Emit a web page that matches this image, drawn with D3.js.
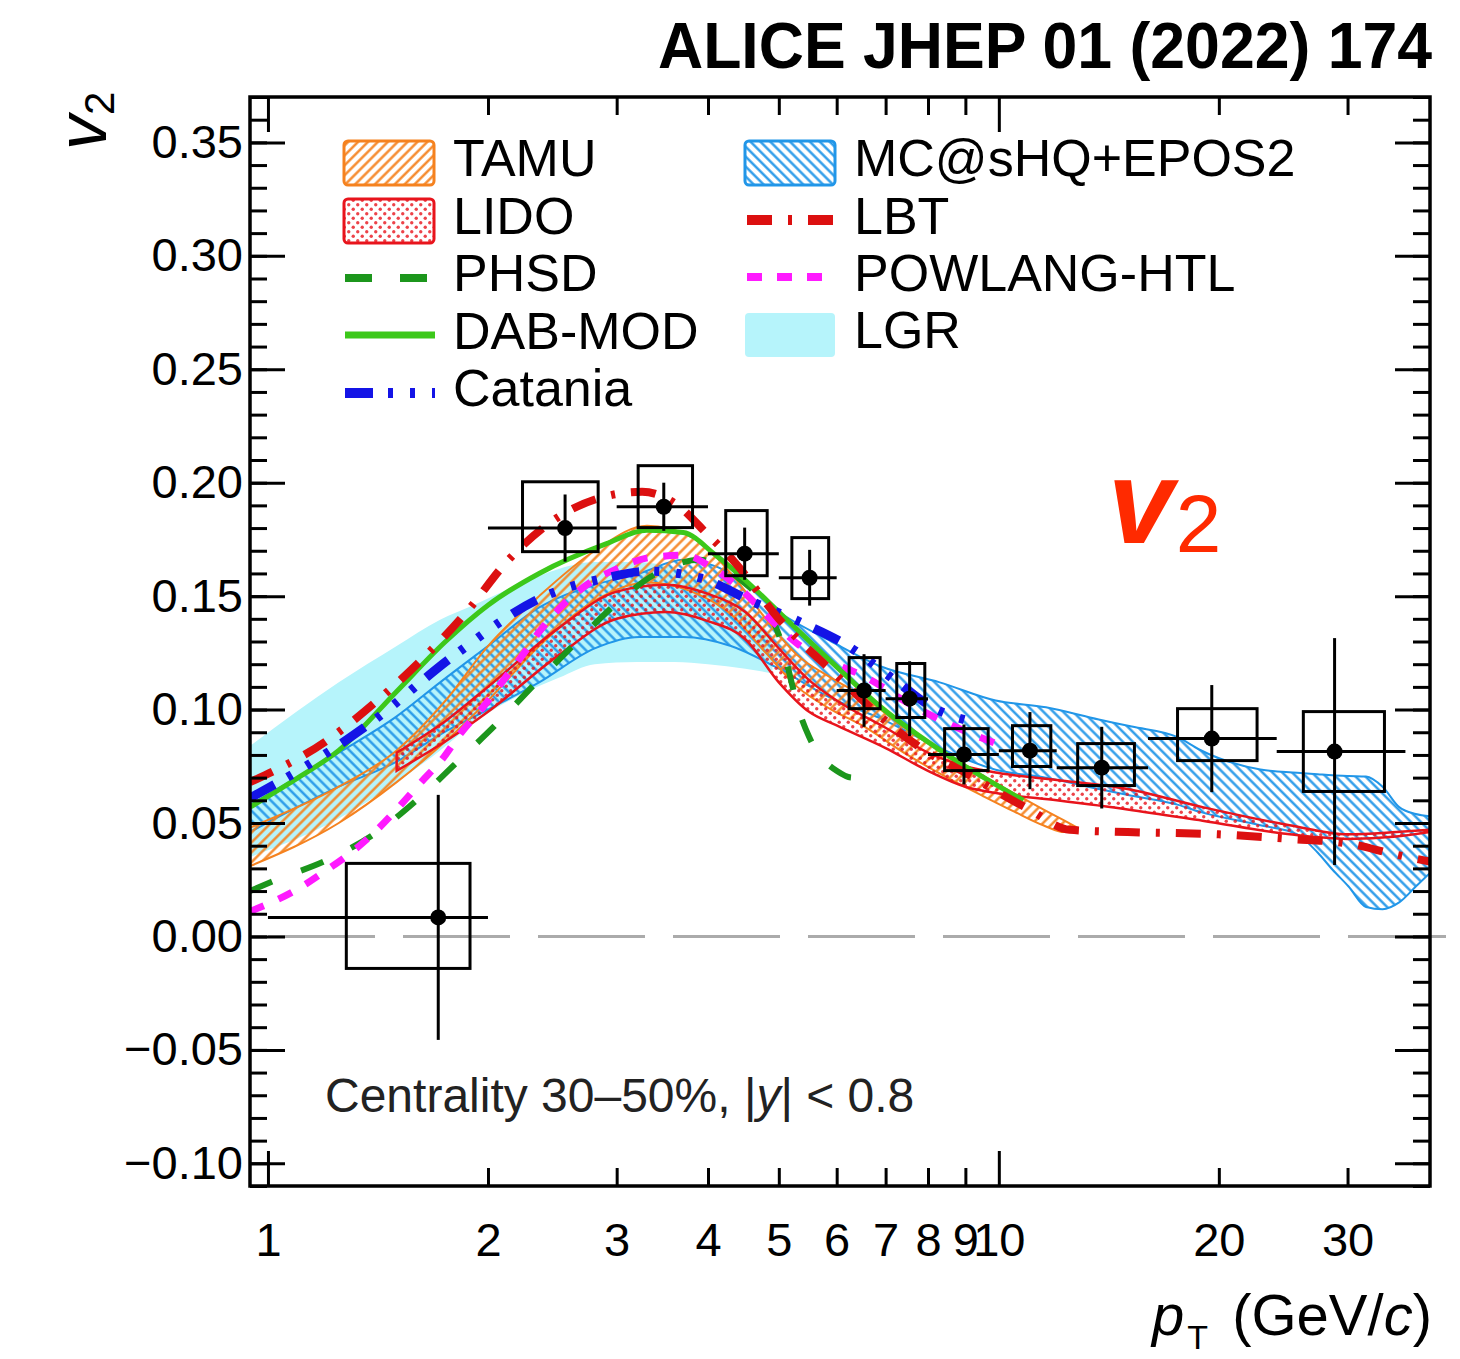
<!DOCTYPE html>
<html>
<head>
<meta charset="utf-8">
<script src="https://cdn.jsdelivr.net/npm/d3@7"></script>
<style>
  html, body { margin: 0; padding: 0; background: #fff; }
  svg { display: block; font-family: "Liberation Sans", Arial, Helvetica, sans-serif; }
</style>
</head>
<body>
<div id="chart"></div>
<script>
const pt         = [1.71, 2.55, 3.48, 4.49, 5.51, 6.54, 7.55, 8.96, 11.03, 13.83, 19.56, 28.8];
const v2         = [0.0084, 0.180, 0.1894, 0.1687, 0.1581, 0.1084, 0.1048, 0.0802, 0.0819, 0.0744, 0.0872, 0.0815];
const binLow     = [1, 2, 3, 4, 5, 6, 7, 8, 10, 12, 16, 24];
const binHigh    = [2, 3, 4, 5, 6, 7, 8, 10, 12, 16, 24, 36];
const statErr    = [0.054, 0.0148, 0.0106, 0.0115, 0.0123, 0.016, 0.0165, 0.0132, 0.017, 0.018, 0.0236, 0.050];
const systUp     = [0.0238, 0.0204, 0.0181, 0.019, 0.0177, 0.0145, 0.0155, 0.0114, 0.011, 0.0106, 0.0132, 0.0176];
const systDown   = [0.0225, 0.0104, 0.0092, 0.0097, 0.0092, 0.008, 0.0083, 0.0071, 0.007, 0.0079, 0.0097, 0.0176];
const systPtLow  = [1.28, 2.23, 3.21, 4.23, 5.21, 6.24, 7.25, 8.43, 10.44, 12.82, 17.56, 26.1];
const systPtHigh = [1.89, 2.83, 3.81, 4.82, 5.85, 6.88, 7.92, 9.67, 11.78, 15.33, 22.56, 33.7];

// ── Model bands ─────────────────────────────────────────────────────────────
const lgrPt   = [0.945, 1.25, 1.5, 1.72, 1.91, 2.2, 2.5, 2.8, 3.2, 3.6, 4.0, 4.5, 4.9];
const lgrHigh = [0.084, 0.112, 0.128, 0.1396, 0.146, 0.155, 0.162, 0.165, 0.165, 0.162, 0.155, 0.143, 0.132];
const lgrLow  = [0.035, 0.052, 0.068, 0.082, 0.094, 0.106, 0.114, 0.120, 0.121, 0.121, 0.120, 0.118, 0.116];

const mcPt   = [0.945, 1.25, 1.5, 1.72, 2.0, 2.35, 2.8, 3.22, 3.7, 4.3, 5.0, 5.9, 6.9, 8.3, 9.9, 11.6, 13.7, 15.2, 17.6, 18.8, 22.8, 25.6, 27.3, 28.6, 30.1, 31.8, 33.5, 35.3, 37.2, 38.9];
const mcHigh = [0.058, 0.081, 0.097, 0.112, 0.128, 0.145, 0.155, 0.160, 0.166, 0.160, 0.143, 0.130, 0.119, 0.112, 0.104, 0.101, 0.0956, 0.0925, 0.0877, 0.0824, 0.0736, 0.0722, 0.0715, 0.071, 0.0707, 0.0705, 0.066, 0.057, 0.054, 0.053];
const mcLow  = [0.046, 0.066, 0.077, 0.089, 0.100, 0.112, 0.127, 0.132, 0.132, 0.128, 0.118, 0.105, 0.096, 0.083, 0.0735, 0.070, 0.065, 0.062, 0.058, 0.055, 0.049, 0.045, 0.037, 0.0295, 0.022, 0.013, 0.012, 0.015, 0.022, 0.028];

const tamuPt   = [0.945, 1.25, 1.5, 1.75, 2.0, 2.35, 2.8, 3.3, 3.8, 4.3, 4.8, 5.3, 5.9, 6.5, 7.5, 8.5, 9.5, 10.5, 11.5, 12.3, 12.8];
const tamuHigh = [0.048, 0.066, 0.082, 0.104, 0.128, 0.150, 0.170, 0.181, 0.176, 0.160, 0.140, 0.124, 0.114, 0.106, 0.091, 0.080, 0.071, 0.063, 0.056, 0.051, 0.048];
const tamuLow  = [0.031, 0.050, 0.068, 0.086, 0.104, 0.128, 0.148, 0.156, 0.152, 0.142, 0.125, 0.110, 0.100, 0.093, 0.080, 0.070, 0.062, 0.055, 0.049, 0.046, 0.046];

const lidoPt   = [1.5, 1.75, 2, 2.5, 3, 3.5, 4, 4.5, 5, 5.5, 6, 7, 8, 9, 10, 12, 15, 19, 25, 30, 35, 38.9];
const lidoHigh = [0.081, 0.095, 0.110, 0.136, 0.152, 0.155, 0.151, 0.143, 0.127, 0.113, 0.104, 0.092, 0.081, 0.075, 0.072, 0.069, 0.065, 0.057, 0.049, 0.045, 0.046, 0.047];
const lidoLow  = [0.073, 0.086, 0.099, 0.124, 0.140, 0.143, 0.139, 0.131, 0.112, 0.099, 0.093, 0.083, 0.073, 0.066, 0.063, 0.060, 0.056, 0.051, 0.045, 0.043, 0.044, 0.046];

// ── Model curves ────────────────────────────────────────────────────────────
const phsdPt = [0.945, 1.01, 1.22, 1.41, 1.61, 1.83, 2.06, 2.33, 2.63, 2.98, 3.4, 3.9, 4.4, 4.8, 5.0, 5.15, 5.3, 5.5, 5.75, 6.0, 6.3, 6.7];
const phsdV2 = [0.020, 0.024, 0.0345, 0.046, 0.061, 0.078, 0.094, 0.112, 0.129, 0.146, 0.160, 0.166, 0.158, 0.145, 0.133, 0.118, 0.102, 0.088, 0.078, 0.073, 0.070, 0.070];

const dabPt = [0.945, 1.1, 1.25, 1.5, 1.75, 2, 2.35, 2.9, 3.3, 3.7, 4.1, 4.5, 5, 5.9, 6.9, 8.5, 10.8];
const dabV2 = [0.057, 0.070, 0.082, 0.108, 0.130, 0.146, 0.160, 0.173, 0.179, 0.178, 0.168, 0.157, 0.143, 0.121, 0.101, 0.080, 0.060];

const cataniaPt = [0.945, 1.1, 1.38, 1.8, 2.39, 2.9, 3.31, 3.9, 4.64, 5.4, 6.22, 7.2, 8.22, 9.1];
const cataniaV2 = [0.061, 0.073, 0.094, 0.124, 0.150, 0.158, 0.161, 0.158, 0.147, 0.138, 0.128, 0.113, 0.100, 0.095];

const lbtPt = [0.945, 1.2, 1.4, 1.6, 1.87, 2.12, 2.5, 2.9, 3.25, 3.6, 4.0, 4.35, 5, 6, 7, 8, 8.9, 10.3, 11, 12.5, 15, 20, 25, 30, 35, 38.9];
const lbtV2 = [0.068, 0.086, 0.103, 0.120, 0.143, 0.165, 0.185, 0.194, 0.196, 0.191, 0.177, 0.165, 0.140, 0.115, 0.095, 0.081, 0.073, 0.061, 0.056, 0.047, 0.046, 0.045, 0.043, 0.041, 0.036, 0.033];

const powlangPt = [0.945, 1.1, 1.2, 1.3, 1.4, 1.5, 1.62, 1.73, 1.84, 1.98, 2.1, 2.23, 2.36, 2.53, 2.76, 3.0, 3.33, 3.72, 4.03, 4.33, 4.94, 5.3, 5.9, 6.6, 7.5, 8.5, 10.1];
const powlangV2 = [0.011, 0.021, 0.029, 0.037, 0.046, 0.056, 0.068, 0.078, 0.090, 0.102, 0.113, 0.124, 0.135, 0.146, 0.156, 0.162, 0.167, 0.168, 0.163, 0.156, 0.138, 0.129, 0.121, 0.114, 0.103, 0.094, 0.084];

// ── Axis ticks ──────────────────────────────────────────────────────────────
const xTickLabels = [1, 2, 3, 4, 5, 6, 7, 8, 9, 10, 20, 30];
const xMajorTicks = [1, 10];
const xMinorTicks = [2, 3, 4, 5, 6, 7, 8, 9, 20, 30];
const yMajorTicks = d3.range(-10, 40, 5).map(v => v / 100);
const yMinorTicks = d3.range(-11, 38).map(v => v / 100);

// ── Layout ──────────────────────────────────────────────────────────────────
const W = 1460, H = 1359;
const frame = { left: 250, right: 1430, top: 97, bottom: 1186 };

const colors = {
  tamu: "#f5821f", lido: "#e8141c", phsd: "#1c961c", dab: "#3cc81a",
  catania: "#1414e6", mc: "#2196e8", lbt: "#dc1010", powlang: "#ff1aff", lgr: "#b6f4fb"
};
const dashes = {
  phsd: "24 31", catania: "28 15 5 17 5 17 5 15", lbt: "25 16 4 16", powlang: "15 16"
};

const x = d3.scaleLog().domain([0.945, 38.9]).range([frame.left, frame.right]);
const y = d3.scaleLinear().domain([-0.11, 0.37]).range([frame.bottom, frame.top]);

const svg = d3.select("#chart").append("svg").attr("width", W).attr("height", H);
const defs = svg.append("defs");

defs.append("clipPath").attr("id", "frame-clip")
  .append("rect")
  .attr("x", frame.left).attr("y", frame.top)
  .attr("width", frame.right - frame.left).attr("height", frame.bottom - frame.top);

function hatch(id, color, angle) {
  defs.append("pattern")
    .attr("id", id)
    .attr("patternUnits", "userSpaceOnUse")
    .attr("width", 7).attr("height", 7)
    .attr("patternTransform", `rotate(${angle})`)
    .append("line")
    .attr("x1", 3.5).attr("y1", 0).attr("x2", 3.5).attr("y2", 7)
    .attr("stroke", color).attr("stroke-width", 2.3);
}
hatch("hatch-tamu", colors.tamu, 45);
hatch("hatch-mc", colors.mc, -45);

const dots = defs.append("pattern")
  .attr("id", "dots-lido")
  .attr("patternUnits", "userSpaceOnUse")
  .attr("width", 9).attr("height", 9);
dots.append("circle").attr("cx", 2.25).attr("cy", 2.25).attr("r", 1.7).attr("fill", colors.lido).attr("opacity", 0.8);
dots.append("circle").attr("cx", 6.75).attr("cy", 6.75).attr("r", 1.7).attr("fill", colors.lido).attr("opacity", 0.8);

const zipBand = (p, lo, hi) => p.map((v, i) => ({ pt: v, lo: lo[i], hi: hi[i] }));
const zipLine = (p, vals) => p.map((v, i) => ({ pt: v, v: vals[i] }));

const band = d3.area().x(d => x(d.pt)).y0(d => y(d.lo)).y1(d => y(d.hi)).curve(d3.curveMonotoneX);
const line = d3.line().x(d => x(d.pt)).y(d => y(d.v)).curve(d3.curveMonotoneX);

// ── Zero reference line ─────────────────────────────────────────────────────
svg.append("line")
  .attr("x1", frame.left).attr("x2", 1446)
  .attr("y1", y(0)).attr("y2", y(0))
  .attr("stroke", "#ababab").attr("stroke-width", 3)
  .attr("stroke-dasharray", "107 28").attr("stroke-dashoffset", 117);

// ── Models ──────────────────────────────────────────────────────────────────
const plot = svg.append("g").attr("clip-path", "url(#frame-clip)");

plot.append("path").datum(zipBand(lgrPt, lgrLow, lgrHigh))
  .attr("d", band).attr("fill", colors.lgr);

plot.append("path").datum(zipBand(mcPt, mcLow, mcHigh))
  .attr("d", band).attr("fill", "url(#hatch-mc)")
  .attr("stroke", colors.mc).attr("stroke-width", 2);

plot.append("path").datum(zipBand(tamuPt, tamuLow, tamuHigh))
  .attr("d", band).attr("fill", "url(#hatch-tamu)")
  .attr("stroke", colors.tamu).attr("stroke-width", 2);

plot.append("path").datum(zipBand(lidoPt, lidoLow, lidoHigh))
  .attr("d", band).attr("fill", "url(#dots-lido)")
  .attr("stroke", colors.lido).attr("stroke-width", 2.5);

const curves = [
  { data: zipLine(phsdPt, phsdV2), color: colors.phsd, width: 6, dash: dashes.phsd },
  { data: zipLine(powlangPt, powlangV2), color: colors.powlang, width: 7, dash: dashes.powlang },
  { data: zipLine(dabPt, dabV2), color: colors.dab, width: 5, dash: null },
  { data: zipLine(cataniaPt, cataniaV2), color: colors.catania, width: 9, dash: dashes.catania },
  { data: zipLine(lbtPt, lbtV2), color: colors.lbt, width: 8, dash: dashes.lbt }
];

plot.selectAll("path.curve")
  .data(curves).join("path")
  .attr("class", "curve")
  .attr("d", d => line(d.data))
  .attr("fill", "none")
  .attr("stroke", d => d.color)
  .attr("stroke-width", d => d.width)
  .attr("stroke-dasharray", d => d.dash);

// ── Data points ─────────────────────────────────────────────────────────────
const points = pt.map((p, i) => ({
  pt: p, v2: v2[i], lo: binLow[i], hi: binHigh[i], stat: statErr[i],
  sUp: systUp[i], sDown: systDown[i], sLo: systPtLow[i], sHi: systPtHigh[i]
}));

const pointGroups = svg.append("g").selectAll("g.point")
  .data(points).join("g").attr("class", "point");

pointGroups.append("rect")
  .attr("x", d => x(d.sLo)).attr("width", d => x(d.sHi) - x(d.sLo))
  .attr("y", d => y(d.v2 + d.sUp)).attr("height", d => y(d.v2 - d.sDown) - y(d.v2 + d.sUp))
  .attr("fill", "none").attr("stroke", "#000").attr("stroke-width", 3);

pointGroups.append("line")
  .attr("x1", d => x(d.lo)).attr("x2", d => x(d.hi))
  .attr("y1", d => y(d.v2)).attr("y2", d => y(d.v2))
  .attr("stroke", "#000").attr("stroke-width", 3);

pointGroups.append("line")
  .attr("x1", d => x(d.pt)).attr("x2", d => x(d.pt))
  .attr("y1", d => y(d.v2 + d.stat)).attr("y2", d => y(d.v2 - d.stat))
  .attr("stroke", "#000").attr("stroke-width", 3);

pointGroups.append("circle")
  .attr("cx", d => x(d.pt)).attr("cy", d => y(d.v2)).attr("r", 8)
  .attr("fill", "#000");

// ── Axes ────────────────────────────────────────────────────────────────────
function styleAxis(g) {
  g.select(".domain").remove();
  g.selectAll(".tick line").attr("stroke", "#000").attr("stroke-width", 3);
  g.attr("font-family", null).attr("font-size", 47);
  g.selectAll(".tick text").attr("fill", "#000");
}

const axes = [
  [d3.axisBottom(x).tickValues(xMinorTicks).tickSize(-18), `translate(0,${frame.bottom})`],
  [d3.axisBottom(x).tickValues(xMajorTicks).tickSize(-35), `translate(0,${frame.bottom})`],
  [d3.axisTop(x).tickValues(xMinorTicks).tickSize(-18), `translate(0,${frame.top})`],
  [d3.axisTop(x).tickValues(xMajorTicks).tickSize(-35), `translate(0,${frame.top})`],
  [d3.axisLeft(y).tickValues(yMinorTicks).tickSize(-17), `translate(${frame.left},0)`],
  [d3.axisLeft(y).tickValues(yMajorTicks).tickSize(-35), `translate(${frame.left},0)`],
  [d3.axisRight(y).tickValues(yMinorTicks).tickSize(-17), `translate(${frame.right},0)`],
  [d3.axisRight(y).tickValues(yMajorTicks).tickSize(-35), `translate(${frame.right},0)`]
];
axes.forEach(([axis, tf]) => {
  svg.append("g").attr("transform", tf).call(axis.tickFormat("")).call(styleAxis);
});

svg.append("g").attr("transform", `translate(0,${frame.bottom})`)
  .call(d3.axisBottom(x).tickValues(xTickLabels).tickSize(0).tickPadding(37).tickFormat(d3.format("d")))
  .call(styleAxis);

svg.append("g").attr("transform", `translate(${frame.left},0)`)
  .call(d3.axisLeft(y).tickValues(yMajorTicks).tickSize(0).tickPadding(7).tickFormat(d3.format(".2f")))
  .call(styleAxis);

svg.append("rect")
  .attr("x", frame.left).attr("y", frame.top)
  .attr("width", frame.right - frame.left).attr("height", frame.bottom - frame.top)
  .attr("fill", "none").attr("stroke", "#000").attr("stroke-width", 3.5);

// ── Axis titles ─────────────────────────────────────────────────────────────
const xTitle = svg.append("text")
  .attr("x", 1432).attr("y", 1335)
  .attr("text-anchor", "end").attr("font-size", 58).attr("fill", "#000");
xTitle.append("tspan").attr("font-style", "italic").text("p");
xTitle.append("tspan").attr("font-size", 34).attr("dx", 3).attr("dy", 14).text("T");
xTitle.append("tspan").attr("dx", 8).attr("dy", -14).text(" (GeV/");
xTitle.append("tspan").attr("font-style", "italic").text("c");
xTitle.append("tspan").text(")");

const yTitle = svg.append("text")
  .attr("transform", "translate(106,150) rotate(-90)")
  .attr("font-size", 70).attr("fill", "#000");
yTitle.append("tspan").attr("font-style", "italic").text("v");
yTitle.append("tspan").attr("font-size", 42).attr("dy", 8).text("2");

// ── Legend ──────────────────────────────────────────────────────────────────
const legend = svg.append("g").attr("font-size", 52).attr("fill", "#000");

function legendBox(x0, yTop, fill, stroke) {
  legend.append("rect")
    .attr("x", x0).attr("y", yTop).attr("width", 90).attr("height", 44).attr("rx", 4)
    .attr("fill", "#fff");
  legend.append("rect")
    .attr("x", x0).attr("y", yTop).attr("width", 90).attr("height", 44).attr("rx", 4)
    .attr("fill", fill)
    .attr("stroke", stroke).attr("stroke-width", stroke ? 3 : 0);
}
function legendLine(x0, yc, color, width, dash) {
  legend.append("line")
    .attr("x1", x0).attr("x2", x0 + 90).attr("y1", yc).attr("y2", yc)
    .attr("stroke", color).attr("stroke-width", width).attr("stroke-dasharray", dash);
}
function legendText(x0, base, label) {
  legend.append("text").attr("x", x0).attr("y", base).text(label);
}

legendBox(344, 141, "url(#hatch-tamu)", colors.tamu);
legendText(453, 176, "TAMU");
legendBox(344, 199, "url(#dots-lido)", colors.lido);
legendText(453, 234, "LIDO");
legendLine(345, 278, colors.phsd, 8, "27 28");
legendText(453, 291, "PHSD");
legendLine(345, 335, colors.dab, 7, null);
legendText(453, 349, "DAB-MOD");
legendLine(345, 393, colors.catania, 10, dashes.catania);
legendText(453, 406, "Catania");

legendBox(745, 141, "url(#hatch-mc)", colors.mc);
legendText(854, 176, "MC@sHQ+EPOS2");
legendLine(747, 220, colors.lbt, 10, dashes.lbt);
legendText(854, 234, "LBT");
legendLine(747, 277, colors.powlang, 8, "15 15");
legendText(854, 291, "POWLANG-HTL");
legendBox(745, 313, colors.lgr, null);
legendText(854, 348, "LGR");

// ── Annotations ─────────────────────────────────────────────────────────────
const centrality = svg.append("text")
  .attr("x", 325).attr("y", 1112).attr("font-size", 48).attr("fill", "#222");
centrality.append("tspan").text("Centrality 30–50%, |");
centrality.append("tspan").attr("font-style", "italic").text("y");
centrality.append("tspan").text("| < 0.8");

svg.append("text")
  .attr("x", 1432).attr("y", 68).attr("text-anchor", "end")
  .attr("font-size", 64).attr("font-weight", "bold")
  .attr("textLength", 774).attr("lengthAdjust", "spacingAndGlyphs")
  .attr("fill", "#000")
  .text("ALICE JHEP 01 (2022) 174");

const redLabel = svg.append("text")
  .attr("x", 1108).attr("y", 543).attr("fill", "#ff2a00");
redLabel.append("tspan").attr("font-size", 118).attr("font-style", "italic").attr("font-weight", "bold").text("v");
redLabel.append("tspan").attr("font-size", 82).attr("dx", 2).attr("dy", 9).text("2");
</script>
</body>
</html>
